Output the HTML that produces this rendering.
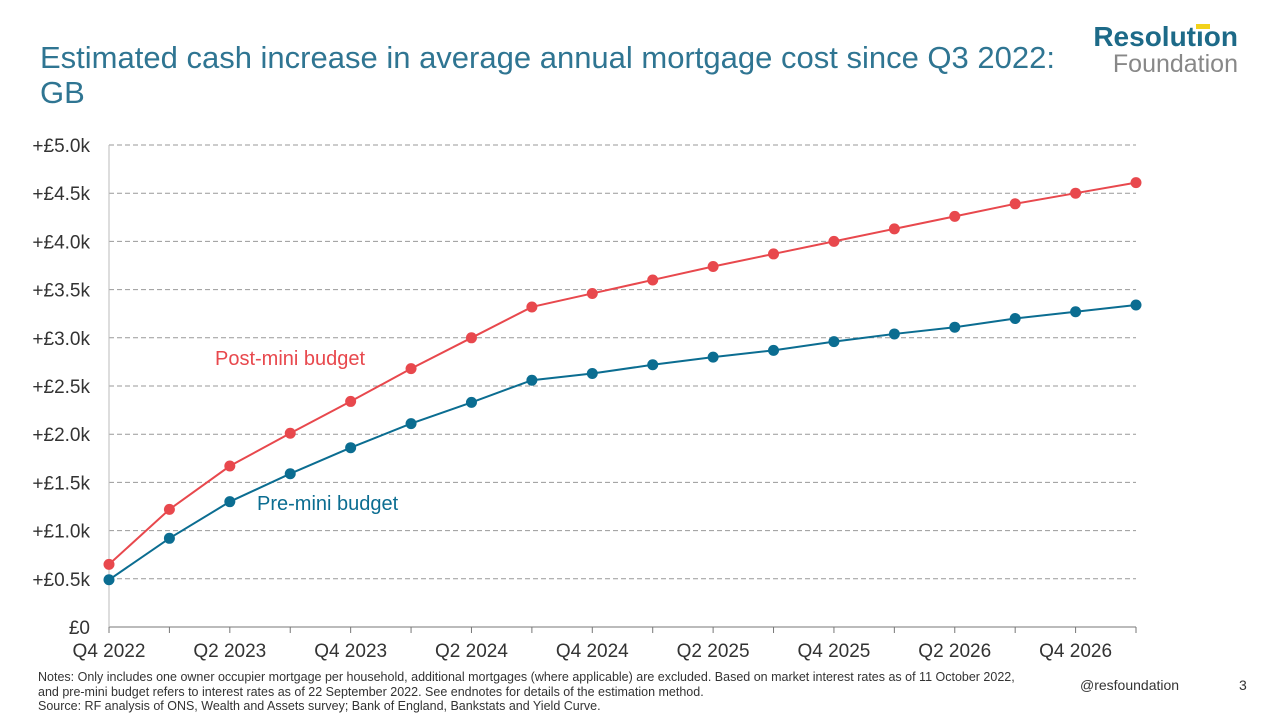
<!DOCTYPE html>
<html><head><meta charset="utf-8"><style>
body{margin:0;width:1280px;height:720px;background:#fff;font-family:"Liberation Sans",sans-serif;overflow:hidden;position:relative}
.t{position:absolute;left:40px;top:40px;font-size:31px;color:#2f7592;line-height:35px;width:1060px}
.n{position:absolute;left:38px;top:670px;font-size:12.5px;color:#333;line-height:14.5px;width:990px}
</style></head><body>
<div class="t">Estimated cash increase in average annual mortgage cost since Q3 2022: GB</div>
<div style="position:absolute;left:1076px;top:22px;text-align:right;width:162px">
<div style="font-size:28px;font-weight:bold;color:#1d6a88;line-height:30px">Resolution</div>
<div style="font-size:25px;color:#888;line-height:24px">Foundation</div>
<div style="position:absolute;left:120px;top:2px;width:14px;height:5px;background:#f2d21b"></div></div>
<svg id="c" width="1280" height="720" style="position:absolute;left:0;top:0"></svg>
<div class="n">Notes: Only includes one owner occupier mortgage per household, additional mortgages (where applicable) are excluded. Based on market interest rates as of 11 October 2022, and pre-mini budget refers to interest rates as of 22 September 2022. See endnotes for details of the estimation method.<br>Source: RF analysis of ONS, Wealth and Assets survey; Bank of England, Bankstats and Yield Curve.</div>
<div style="position:absolute;left:1080px;top:677px;font-size:14px;color:#333">@resfoundation</div>
<div style="position:absolute;left:1239px;top:677px;font-size:14px;color:#333">3</div>
<script>
const quarters=["Q4 2022","Q1 2023","Q2 2023","Q3 2023","Q4 2023","Q1 2024","Q2 2024","Q3 2024","Q4 2024","Q1 2025","Q2 2025","Q3 2025","Q4 2025","Q1 2026","Q2 2026","Q3 2026","Q4 2026","Q1 2027"];
const postMini=[0.65,1.22,1.67,2.01,2.34,2.68,3.00,3.32,3.46,3.60,3.74,3.87,4.00,4.13,4.26,4.39,4.50,4.61];
const preMini=[0.49,0.92,1.30,1.59,1.86,2.11,2.33,2.56,2.63,2.72,2.80,2.87,2.96,3.04,3.11,3.20,3.27,3.34];
const yTicks=[0,0.5,1,1.5,2,2.5,3,3.5,4,4.5,5];
const yLabels=["£0","+£0.5k","+£1.0k","+£1.5k","+£2.0k","+£2.5k","+£3.0k","+£3.5k","+£4.0k","+£4.5k","+£5.0k"];
const svg=document.getElementById('c'),NS="http://www.w3.org/2000/svg";
const x=i=>109+i*(1136-109)/(quarters.length-1), y=v=>627-v*(627-145)/5;
function mk(t,a,p){const e=document.createElementNS(NS,t);for(const k in a)e.setAttribute(k,a[k]);(p||svg).appendChild(e);return e;}
yTicks.forEach((v,i)=>{
 if(v>0){const g=mk('line',{x1:109,x2:1136,y1:y(v),y2:y(v),stroke:'#999','stroke-dasharray':'5,3','stroke-width':1});
 }
 const t=mk('text',{x:90,y:y(v)+7,'text-anchor':'end','font-size':19,fill:'#333'});t.textContent=yLabels[i];
 
});
const ax=mk('line',{x1:109,x2:1136,y1:627,y2:627,stroke:'#777'});
const ay=mk('line',{x1:109,x2:109,y1:145,y2:627,stroke:'#bbb'});
quarters.forEach((q,i)=>{
 const tk=mk('line',{x1:x(i),x2:x(i),y1:627,y2:633,stroke:'#777'});
 if(i%2==0&&i<17){const t=mk('text',{x:x(i),y:657,'text-anchor':'middle','font-size':19,fill:'#333'});t.textContent=q;
 }
});
function series(d,c,n){
 const p=mk('polyline',{points:d.map((v,i)=>x(i)+','+y(v)).join(' '),fill:'none',stroke:c,'stroke-width':2});
 
 d.forEach((v,i)=>{const m=mk('circle',{cx:x(i),cy:y(v),r:5.5,fill:c});});
}
series(postMini,'#e8484d','post-mini-budget');
series(preMini,'#0b6d91','pre-mini-budget');
let l=mk('text',{x:215,y:365,'font-size':20,fill:'#e8484d'});l.textContent='Post-mini budget';
l=mk('text',{x:257,y:510,'font-size':20,fill:'#0b6d91'});l.textContent='Pre-mini budget';
</script></body></html>
